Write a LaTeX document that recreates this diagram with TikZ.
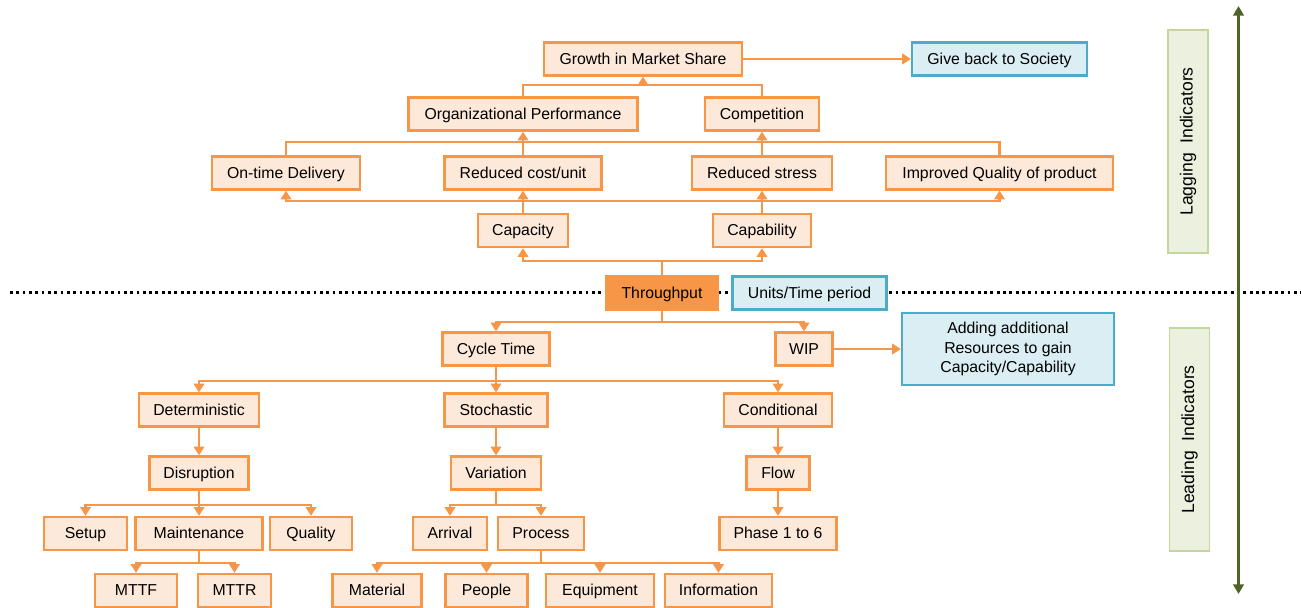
\documentclass[tikz,border=0pt]{standalone}
\usepackage{fontspec}
\setmainfont{Liberation Sans}
\usetikzlibrary{arrows.meta,calc}

\definecolor{ordraw}{HTML}{F79646}
\definecolor{orfill}{HTML}{FDE9D9}
\definecolor{bldraw}{HTML}{4BACC6}
\definecolor{blfill}{HTML}{DAEEF3}
\definecolor{grdraw}{HTML}{C3D69B}
\definecolor{grfill}{HTML}{EBF1DE}
\definecolor{grarrow}{HTML}{4F6228}

\begin{document}
\begin{tikzpicture}[x=0.02cm, y=-0.02cm,
      base/.style={draw=ordraw, fill=orfill, line width=1.3pt, inner sep=2pt,
                   text centered, font=\fontsize{9}{11}\selectfont},
      box/.style={base, minimum height=0.66cm, text height=6.5pt, text depth=0.6pt},
      note/.style={box, draw=bldraw, fill=blfill},
      side/.style={draw=grdraw, fill=grfill, line width=1pt, rotate=90, minimum width=4.46cm,
                   minimum height=0.8cm, font=\fontsize{10}{12}\selectfont},
      conn/.style={ordraw, line width=1.2pt},
      arr/.style={conn, -{Triangle[width=6pt,length=5pt]}},
      sep/.style={line width=1.6pt, dash pattern=on 1.6pt off 2pt},
      ind/.style={grarrow, line width=1.7pt, {Triangle[width=6pt,length=5.5pt]}-{Triangle[width=6pt,length=5.5pt]}}
    ]
      \useasboundingbox (0,0) rectangle (1301,608);
      \draw[sep] (10,292.5) -- (1301,292.5);

      % lagging side
      \node[box, minimum width=3.96cm] (growth) at (643,59) {Growth in Market Share};
      \node[note, minimum width=3.5cm] (give) at (999.5,59) {Give back to Society};
      \node[box, minimum width=4.58cm] (orgperf) at (523,114) {Organizational Performance};
      \node[box, minimum width=2.28cm] (comp) at (762,114) {Competition};
      \node[box, minimum width=2.96cm] (ontime) at (286,173) {On-time Delivery};
      \node[box, minimum width=3.14cm] (redcost) at (523,173) {Reduced cost/unit};
      \node[box, minimum width=2.8cm] (redstress) at (762,173) {Reduced stress};
      \node[box, minimum width=4.54cm] (impqual) at (999.5,173) {Improved Quality of product};
      \node[box, minimum width=1.8cm] (capa) at (523,230.5) {Capacity};
      \node[box, minimum width=1.96cm] (capab) at (762,230.5) {Capability};

      \node[box, fill=ordraw, minimum width=2.22cm] (thru) at (662,293) {Throughput};
      \node[note, minimum width=3.08cm] (units) at (809.5,293) {Units/Time period};

      % leading side
      \node[box, minimum width=2.14cm] (cycle) at (496,349) {Cycle Time};
      \node[box, minimum width=1.14cm] (wip) at (804,349) {WIP};
      \node[base, draw=bldraw, fill=blfill, minimum width=4.24cm, minimum height=1.44cm, align=center]
        (adding) at (1008,349) {Adding additional\\Resources to gain\\Capacity/Capability};
      \node[box, minimum width=2.4cm] (determ) at (199,410) {Deterministic};
      \node[box, minimum width=2.06cm] (stoch) at (496,410) {Stochastic};
      \node[box, minimum width=2.16cm] (cond) at (778,410) {Conditional};
      \node[box, minimum width=1.98cm] (disr) at (199,473) {Disruption};
      \node[box, minimum width=1.8cm] (var) at (496,473) {Variation};
      \node[box, minimum width=1.26cm] (flow) at (778,473) {Flow};
      \node[box, minimum width=1.66cm] (setup) at (85.5,533.5) {Setup};
      \node[box, minimum width=2.54cm] (maint) at (199,533.5) {Maintenance};
      \node[box, minimum width=1.64cm] (quality) at (311,533.5) {Quality};
      \node[box, minimum width=1.48cm] (arrival) at (450,533.5) {Arrival};
      \node[box, minimum width=1.72cm] (process) at (541,533.5) {Process};
      \node[box, minimum width=2.34cm] (phase) at (778,533.5) {Phase 1 to 6};
      \node[box, minimum width=1.64cm] (mttf) at (136,590.5) {MTTF};
      \node[box, minimum width=1.46cm] (mttr) at (234.5,590.5) {MTTR};
      \node[box, minimum width=1.78cm] (material) at (377,590.5) {Material};
      \node[box, minimum width=1.64cm] (people) at (486.5,590.5) {People};
      \node[box, minimum width=2.16cm] (equip) at (600,590.5) {Equipment};
      \node[box, minimum width=2.14cm] (info) at (718.5,590.5) {Information};

      \node[side] (lag) at (1188,141.5) {Lagging\ \ Indicators};
      \node[side] (lead) at (1189.5,439.5) {Leading\ \ Indicators};
      \coordinate (indtop) at (1238.5,6);
      \coordinate (indbot) at (1238.5,594);
      \draw[ind] (indbot) -- (indtop);

      % upward connectors
      \draw[arr] (thru.north) -- ++(0,-14) -| (capa.south);
      \draw[arr] (thru.north) -- ++(0,-14) -| (capab.south);
      \draw[arr] (capa.north) -- (redcost.south);
      \draw[arr] (capab.north) -- (redstress.south);
      \draw[arr] (capa.north) -- ++(0,-12) -| (ontime.south);
      \draw[arr] (capab.north) -- ++(0,-12) -| (impqual.south);
      \draw[conn] (capa.north) -- ++(0,-12) -| (capab.north);
      \draw[arr] (redcost.north) -- (orgperf.south);
      \draw[arr] (redstress.north) -- (comp.south);
      \draw[conn] (ontime.north) -- ++(0,-13.5) -| (impqual.north);
      \draw[arr] (orgperf.north) -- ++(0,-11.5) -| (growth.south);
      \draw[conn] (comp.north) |- ($(orgperf.north)+(0,-11.5)$);
      \draw[arr] (growth.east) -- (give.west);

      % downward connectors
      \draw[arr] (thru.south) -- ++(0,11.5) -| (cycle.north);
      \draw[arr] (thru.south) -- ++(0,11.5) -| (wip.north);
      \draw[arr] (wip.east) -- (adding.west);
      \draw[arr] (cycle.south) -- ++(0,14) -| (determ.north);
      \draw[arr] (cycle.south) -- (stoch.north);
      \draw[arr] (cycle.south) -- ++(0,14) -| (cond.north);
      \draw[arr] (determ.south) -- (disr.north);
      \draw[arr] (stoch.south) -- (var.north);
      \draw[arr] (cond.south) -- (flow.north);
      \draw[arr] (flow.south) -- (phase.north);
      \draw[arr] (disr.south) -- ++(0,14) -| (setup.north);
      \draw[arr] (disr.south) -- (maint.north);
      \draw[arr] (disr.south) -- ++(0,14) -| (quality.north);
      \draw[arr] (maint.south) -- ++(0,12) -| (mttf.north);
      \draw[arr] (maint.south) -- ++(0,12) -| (mttr.north);
      \draw[arr] (var.south) -- ++(0,14) -| (arrival.north);
      \draw[arr] (var.south) -- ++(0,14) -| (process.north);
      \draw[arr] (process.south) -- ++(0,12) -| (material.north);
      \draw[arr] (process.south) -- ++(0,12) -| (people.north);
      \draw[arr] (process.south) -- ++(0,12) -| (equip.north);
      \draw[arr] (process.south) -- ++(0,12) -| (info.north);
    \end{tikzpicture}
\end{document}
